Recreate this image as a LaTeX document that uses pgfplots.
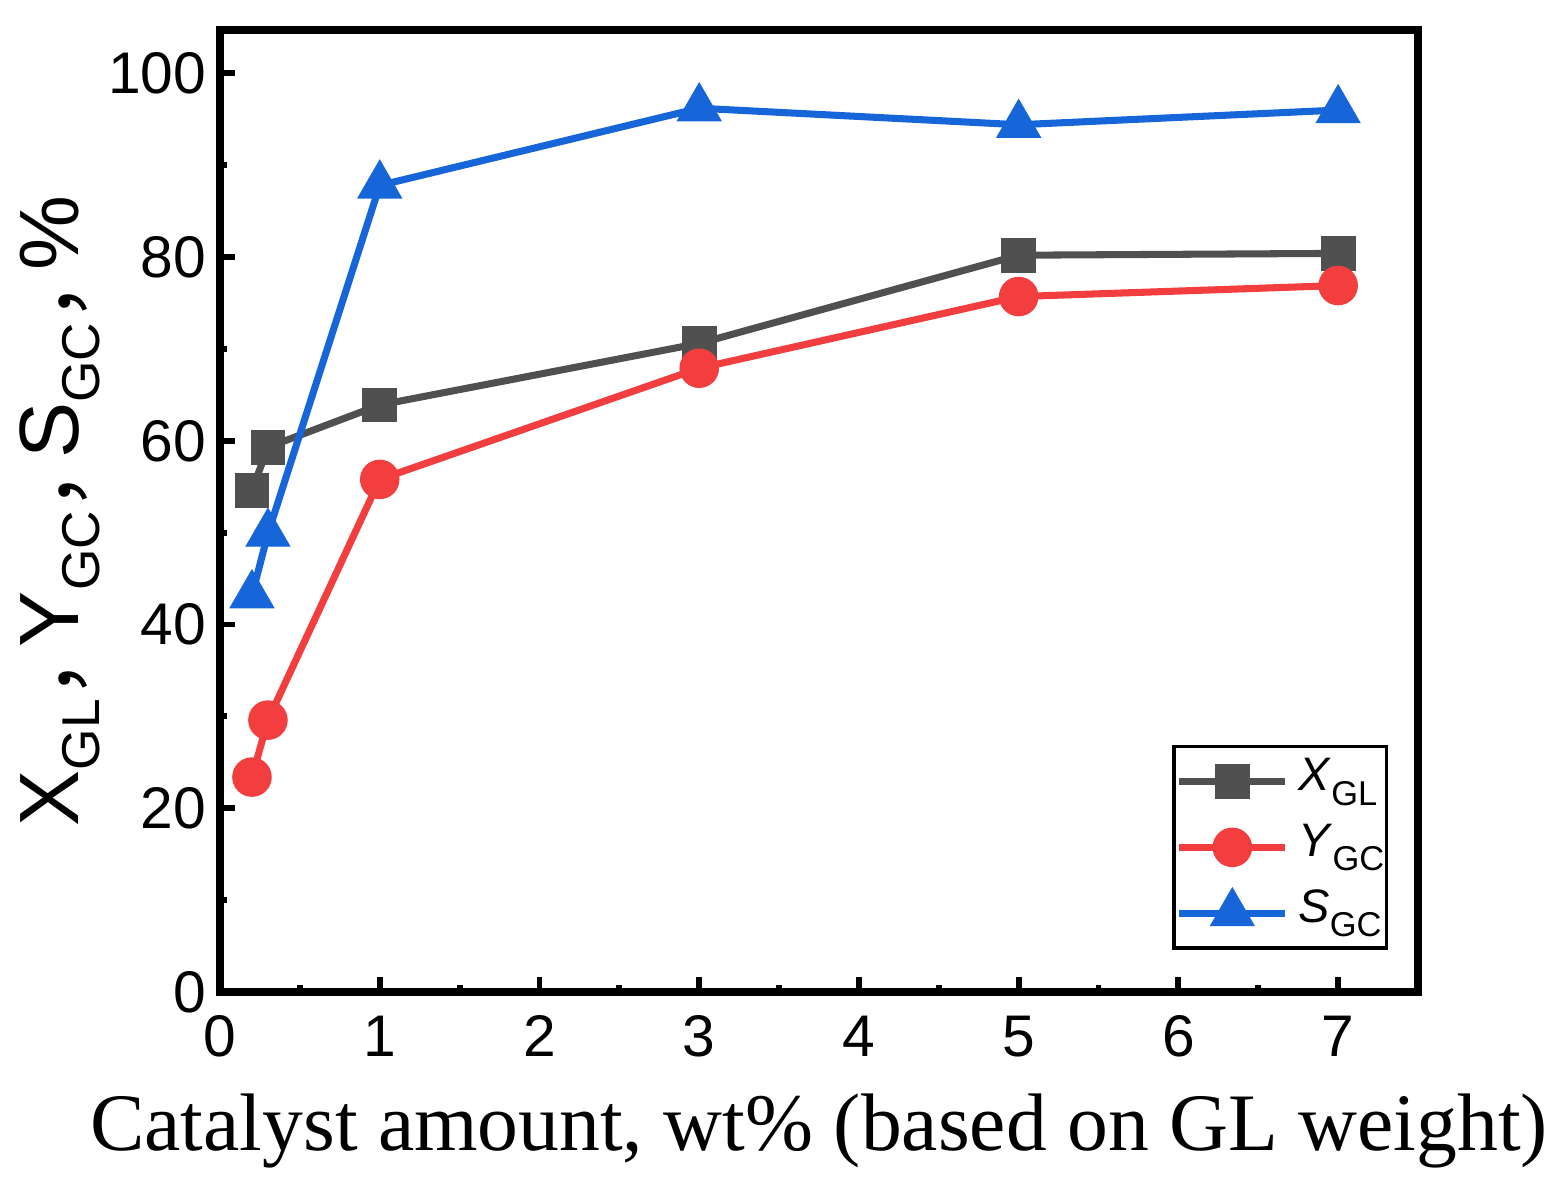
\documentclass[border=0pt]{standalone}
\usepackage{pgfplots}
\pgfplotsset{compat=1.18}
\usepackage{fontspec}
\setmainfont{Liberation Sans}
\newfontfamily\seriffont{Liberation Serif}
\newfontfamily\cjk{Noto Sans CJK SC}
\definecolor{cX}{RGB}{80,80,80}
\definecolor{cY}{RGB}{242,62,62}
\definecolor{cS}{RGB}{22,102,218}
\newcommand\sub[1]{\raisebox{-0.24em}{\fontsize{13.6}{14}\selectfont #1}}
\newcommand\lsub[1]{\raisebox{-0.3em}{\fontsize{8.8}{9}\selectfont #1}}
\newcommand\cm{{\cjk，}\kern-0.38em}
\begin{document}
\begin{tikzpicture}
\begin{axis}[
  scale only axis,
  width=306pt, height=245.7pt,
  xmin=0, xmax=7.5, ymin=0, ymax=104.7,
  xtick={0,1,...,7}, ytick={0,20,...,100},
  minor x tick num=1, minor y tick num=1,
  xtick pos=bottom, ytick pos=left,
  tick align=inside,
  major tick length=3.8pt, minor tick length=1.8pt,
  every tick/.style={black, line width=1.5pt},
  axis line style={line width=1.9pt},
  /pgf/number format/assume math mode=true,
  tick label style={font=\fontsize{15}{18}\selectfont},
  xticklabel style={yshift=-2.5pt},
  xlabel={\seriffont\fontsize{20.85}{24}\selectfont Catalyst amount, wt\% (based on GL weight)},
  xlabel style={at={(axis description cs:0.5,-0.1642)}, anchor=base},
  ylabel={\fontsize{21.5}{24}\selectfont X\sub{GL}\cm Y\sub{GC}\cm S\sub{GC}\cm\%},
  ylabel style={at={(axis description cs:-0.1336,0.5)}, anchor=center, rotate=0},
  legend style={at={(rel axis cs:0.975,0.044)}, anchor=south east, draw=black, line width=0.9pt,
    font=\fontsize{12}{14}\selectfont, row sep=0pt, inner sep=0.5pt, column sep=2.5pt,
    nodes={inner sep=0pt, text height=10.8pt, text depth=6pt}},
  legend cell align=left,
  legend image code/.code={\draw[mark repeat=2,mark phase=2] plot coordinates {(0pt,0pt) (13.5pt,0pt) (27pt,0pt)};},
  every axis plot/.append style={line width=1.8pt},
]
\addplot[cX, mark=square*, mark size=4.3pt, mark options={solid, line width=0.3pt, fill=cX}] coordinates {
(0.2,54.6) (0.3,59.3) (1,63.9) (3,70.6) (5,80.2) (7,80.4)};
\addlegendentry{\textit{X}\lsub{GL}}
\addplot[cY, mark=*, mark size=4.9pt, mark options={solid, line width=0.3pt, fill=cY}] coordinates {
(0.2,23.4) (0.3,29.6) (1,55.8) (3,67.9) (5,75.7) (7,76.9)};
\addlegendentry{\textit{Y}\lsub{GC}}
\addplot[cS, mark=triangle*, mark size=6.4pt, mark options={solid, line width=0.3pt, fill=cS}] coordinates {
(0.2,43.2) (0.3,49.9) (1,87.8) (3,96.2) (5,94.4) (7,96.0)};
\addlegendentry{\textit{S}\lsub{GC}}
\coordinate (BL) at (rel axis cs:0,0);
\coordinate (TR) at (rel axis cs:1,1);
\end{axis}
\pgfresetboundingbox
\path[use as bounding box] ([xshift=-56.2pt,yshift=-50.6pt]BL) rectangle ([xshift=37.8pt,yshift=7.7pt]TR);
\end{tikzpicture}
\end{document}
